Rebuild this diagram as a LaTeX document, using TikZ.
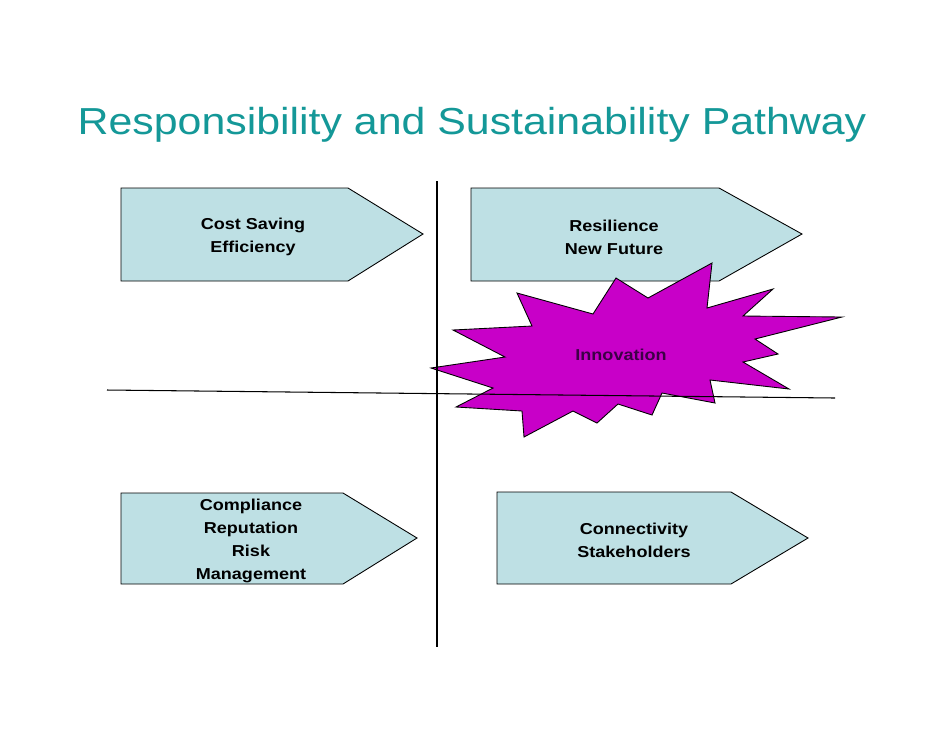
\documentclass[tikz,border=0pt]{standalone}
\usepackage{fontspec}
\setmainfont[FakeStretch=1.14]{Liberation Sans}
\usepackage{tikz}
\usetikzlibrary{positioning}

\definecolor{titleteal}{RGB}{20,152,152}
\definecolor{boxblue}{RGB}{190,224,228}
\definecolor{burstmagenta}{RGB}{200,0,200}
\definecolor{burstink}{RGB}{60,0,70}

\begin{document}
\begin{tikzpicture}[
    x=0.02cm, y=-0.02cm,
    pathbox/.style={draw, fill=boxblue, line width=0.5pt},
    boxtext/.style={font=\fontsize{9}{13}\selectfont\bfseries, align=center, inner sep=0pt},
    burst/.style={draw, fill=burstmagenta, line width=0.5pt},
    axisline/.style={draw, line width=0.6pt}
]
    \fill[white] (0,0) rectangle (942,728);
    \useasboundingbox (0,0) rectangle (942,728);

    % Title
    \node[font=\fontsize{21.4}{26}\selectfont, text=titleteal, inner sep=0pt, anchor=base] (title) at (472,134) {Responsibility and Sustainability Pathway};

    % Arrow boxes
    \draw[pathbox] (121,188) -- (348,188) -- (423,234) -- (348,281) -- (121,281) -- cycle;
    \draw[pathbox] (471,188) -- (719,188) -- (802,234) -- (719,281) -- (471,281) -- cycle;
    \draw[pathbox] (121,493) -- (343,493) -- (417,538) -- (343,584) -- (121,584) -- cycle;
    \draw[pathbox] (497,492) -- (731,492) -- (808,538) -- (731,584) -- (497,584) -- cycle;

    \node[boxtext] (cost) at (253,237) {Cost Saving\\Efficiency};
    \node[boxtext] (resil) at (614,237) {Resilience\\New Future};
    \node[boxtext] (compl) at (251,541) {Compliance\\Reputation\\Risk\\Management};
    \node[boxtext] (conn) at (634,540) {Connectivity\\Stakeholders};

    % Innovation burst
    \draw[burst] (517,293) -- (593,314) -- (616,278) -- (648,298) -- (712,263)
        -- (707,308) -- (773,289) -- (743,316) -- (842,317) -- (755,339)
        -- (778,354) -- (743,362) -- (789,389) -- (710,380) -- (715,403)
        -- (662,393) -- (652,415) -- (618,404) -- (597,423) -- (573,411)
        -- (524,437) -- (522,411) -- (456,407) -- (493,388) -- (431,368)
        -- (505,357) -- (453,330) -- (532,326) -- cycle;
    \node[boxtext, text=burstink] (innov) at (621,355) {Innovation};

    % Axes
    \coordinate (vtop) at (437,181);
    \coordinate (vbot) at (437,647);
    \coordinate (hleft) at (107,390);
    \coordinate (hright) at (835,398);
    \draw[axisline] (vtop) -- (vbot);
    \draw[axisline] (hleft) -- (hright);
\end{tikzpicture}
\end{document}
